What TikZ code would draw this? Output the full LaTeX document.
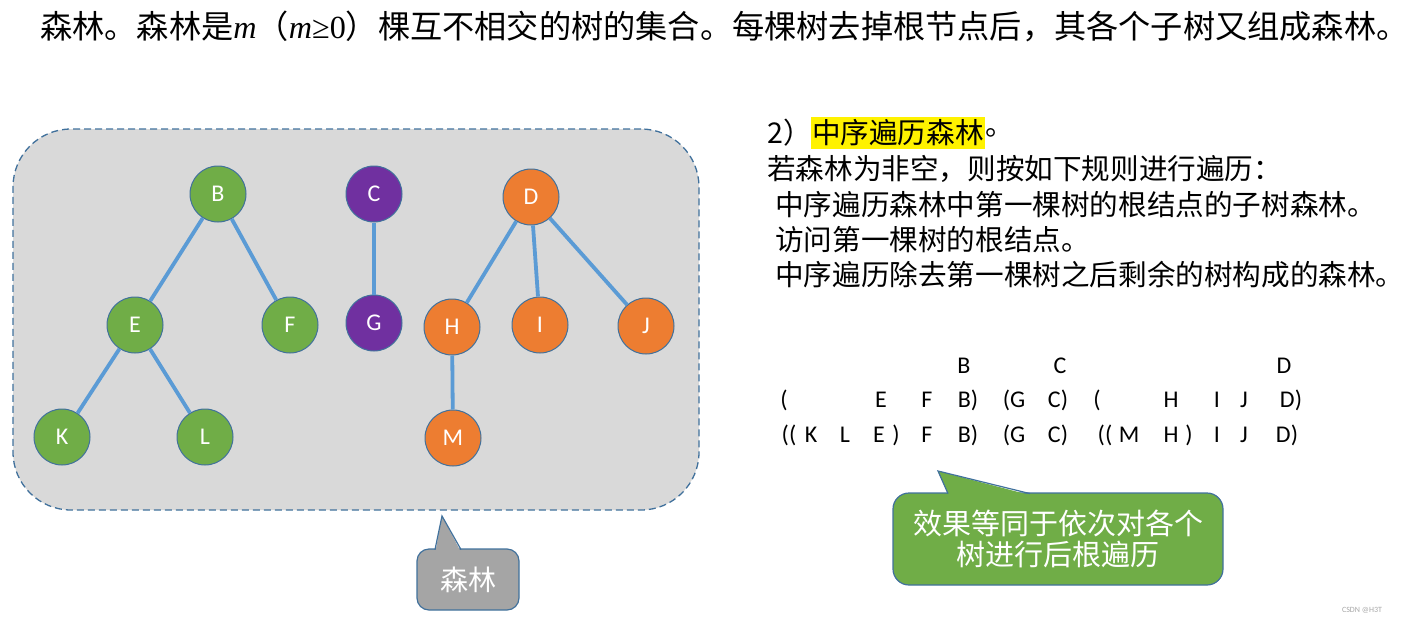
\documentclass[tikz,border=0pt]{standalone}
\usepackage{fontspec}
\setmainfont{Carlito}
\newfontfamily\cjk{Noto Sans CJK SC}
\newfontfamily\tnr{Liberation Serif}
\definecolor{gfill}{HTML}{70AD47}
\definecolor{pfill}{HTML}{7030A0}
\definecolor{ofill}{HTML}{ED7D31}
\definecolor{bord}{HTML}{41719C}
\definecolor{edgec}{HTML}{5B9BD5}
\definecolor{boxgray}{HTML}{D9D9D9}
\definecolor{callgray}{HTML}{A5A5A5}
\begin{document}
\begin{tikzpicture}[x=1pt,y=-1pt,
  tnode/.style={circle,draw=bord,line width=1pt,minimum size=56pt,inner sep=0pt,text=white,font=\fontsize{24}{26}\selectfont},
  gn/.style={tnode,fill=gfill},
  pn/.style={tnode,fill=pfill},
  on/.style={tnode,fill=ofill},
  tedge/.style={draw=edgec,line width=3.8pt},
  seq/.style={inner sep=0pt,font=\fontsize{24}{26}\selectfont},
  rtext/.style={anchor=west,inner sep=0pt,font=\fontsize{28.6}{31}\selectfont\cjk},
  callout/.style={draw=bord,line width=1.2pt}
]
\useasboundingbox (0,0) rectangle (1408,624);

% title
\node[anchor=west,inner sep=0pt] (title) at (40,26) {\fontsize{32.2}{35}\selectfont\cjk 森林。森林是{\tnr\itshape m}（{\tnr\itshape m}{\tnr ≥0}）棵互不相交的树的集合。每棵树去掉根节点后，其各个子树又组成森林。};

% forest box
\node[draw=bord,fill=boxgray,line width=1.3pt,dash pattern=on 7pt off 4pt,rounded corners=58pt,minimum width=686pt,minimum height=381pt] (forest) at (356,319.5) {};

% nodes
\node[gn] (B) at (218,194) {B};
\node[pn] (C) at (374,194) {C};
\node[on] (D) at (531,197) {D};
\node[gn] (E) at (135,325) {E};
\node[gn] (F) at (290,325) {F};
\node[pn] (G) at (374,323) {G};
\node[on] (H) at (452,327) {H};
\node[on] (I) at (540,325) {I};
\node[on] (J) at (646,326) {J};
\node[gn] (K) at (62,437) {K};
\node[gn] (L) at (205,437) {L};
\node[on] (M) at (453,438) {M};

\draw[tedge] (B) -- (E);
\draw[tedge] (B) -- (F);
\draw[tedge] (C) -- (G);
\draw[tedge] (D) -- (H);
\draw[tedge] (D) -- (I);
\draw[tedge] (D) -- (J);
\draw[tedge] (H) -- (M);
\draw[tedge] (E) -- (K);
\draw[tedge] (E) -- (L);

% gray callout
\node[callout,fill=callgray,rounded corners=12pt,minimum width=102pt,minimum height=61pt,inner sep=0pt,text=white,font=\fontsize{28}{30}\selectfont\cjk] (senlin) at (468,579.5) {森林};
\fill[callgray] (435.6,551) -- (442,516) -- (460.4,551) -- cycle;
\draw[bord,line width=1.2pt,line join=miter] (435,549.6) -- (442,516) -- (461,549.6);

% green callout
\node[callout,fill=gfill,rounded corners=16pt,minimum width=330pt,minimum height=92pt,inner sep=0pt,text=white,font=\fontsize{29}{31}\selectfont\cjk,align=center] (eff) at (1058,539) {效果等同于依次对各个\\树进行后根遍历};
\fill[gfill] (948.4,495) -- (938,471) -- (1029.6,495) -- cycle;
\draw[bord,line width=1.2pt,line join=miter] (948,493.6) -- (938,471) -- (1030,493.6);

% right text
\node[rtext] (r0) at (767,133) {2）};
\node[rtext,fill=yellow,inner xsep=1pt,inner ysep=3pt,anchor=west] (r0h) at ([xshift=-1pt]r0.east) {中序遍历森林};
\node[rtext,anchor=west] (r0e) at (r0h.east) {。};
\node[rtext] (r1) at (767,169) {若森林为非空，则按如下规则进行遍历：};
\node[rtext] (r2) at (775,205) {中序遍历森林中第一棵树的根结点的子树森林。};
\node[rtext] (r3) at (775,240) {访问第一棵树的根结点。};
\node[rtext] (r4) at (775,275) {中序遍历除去第一棵树之后剩余的树构成的森林。};

% sequences row 1
\node[seq] (a1) at (964,366) {B};
\node[seq] (a2) at (1060,366) {C};
\node[seq] (a3) at (1284,366) {D};
% row 2
\node[seq] (b1) at (784,400) {(};
\node[seq] (b2) at (881,400) {E};
\node[seq] (b3) at (927,400) {F};
\node[seq] (b4) at (968,400) {B)};
\node[seq] (b5) at (1014,400) {(G};
\node[seq] (b6) at (1058,400) {C)};
\node[seq] (b7) at (1097,400) {(};
\node[seq] (b8) at (1171,400) {H};
\node[seq] (b9) at (1217,400) {I};
\node[seq] (b10) at (1244,400) {J};
\node[seq] (b11) at (1291,400) {D)};
% row 3
\node[seq] (c1) at (789,435) {((};
\node[seq] (c2) at (811,435) {K};
\node[seq] (c3) at (845,435) {L};
\node[seq] (c4) at (879,435) {E};
\node[seq] (c5) at (896,435) {)};
\node[seq] (c6) at (927,435) {F};
\node[seq] (c7) at (968,435) {B)};
\node[seq] (c8) at (1014,435) {(G};
\node[seq] (c9) at (1058,435) {C)};
\node[seq] (c10) at (1105,435) {((};
\node[seq] (c11) at (1129,435) {M};
\node[seq] (c12) at (1171,435) {H};
\node[seq] (c13) at (1189,435) {)};
\node[seq] (c14) at (1217,435) {I};
\node[seq] (c15) at (1244,435) {J};
\node[seq] (c16) at (1287,435) {D)};

% watermark
\node[text=gray!70,font=\fontsize{8}{9}\selectfont] (wm) at (1362,610) {CSDN @H3T};
\end{tikzpicture}
\end{document}
